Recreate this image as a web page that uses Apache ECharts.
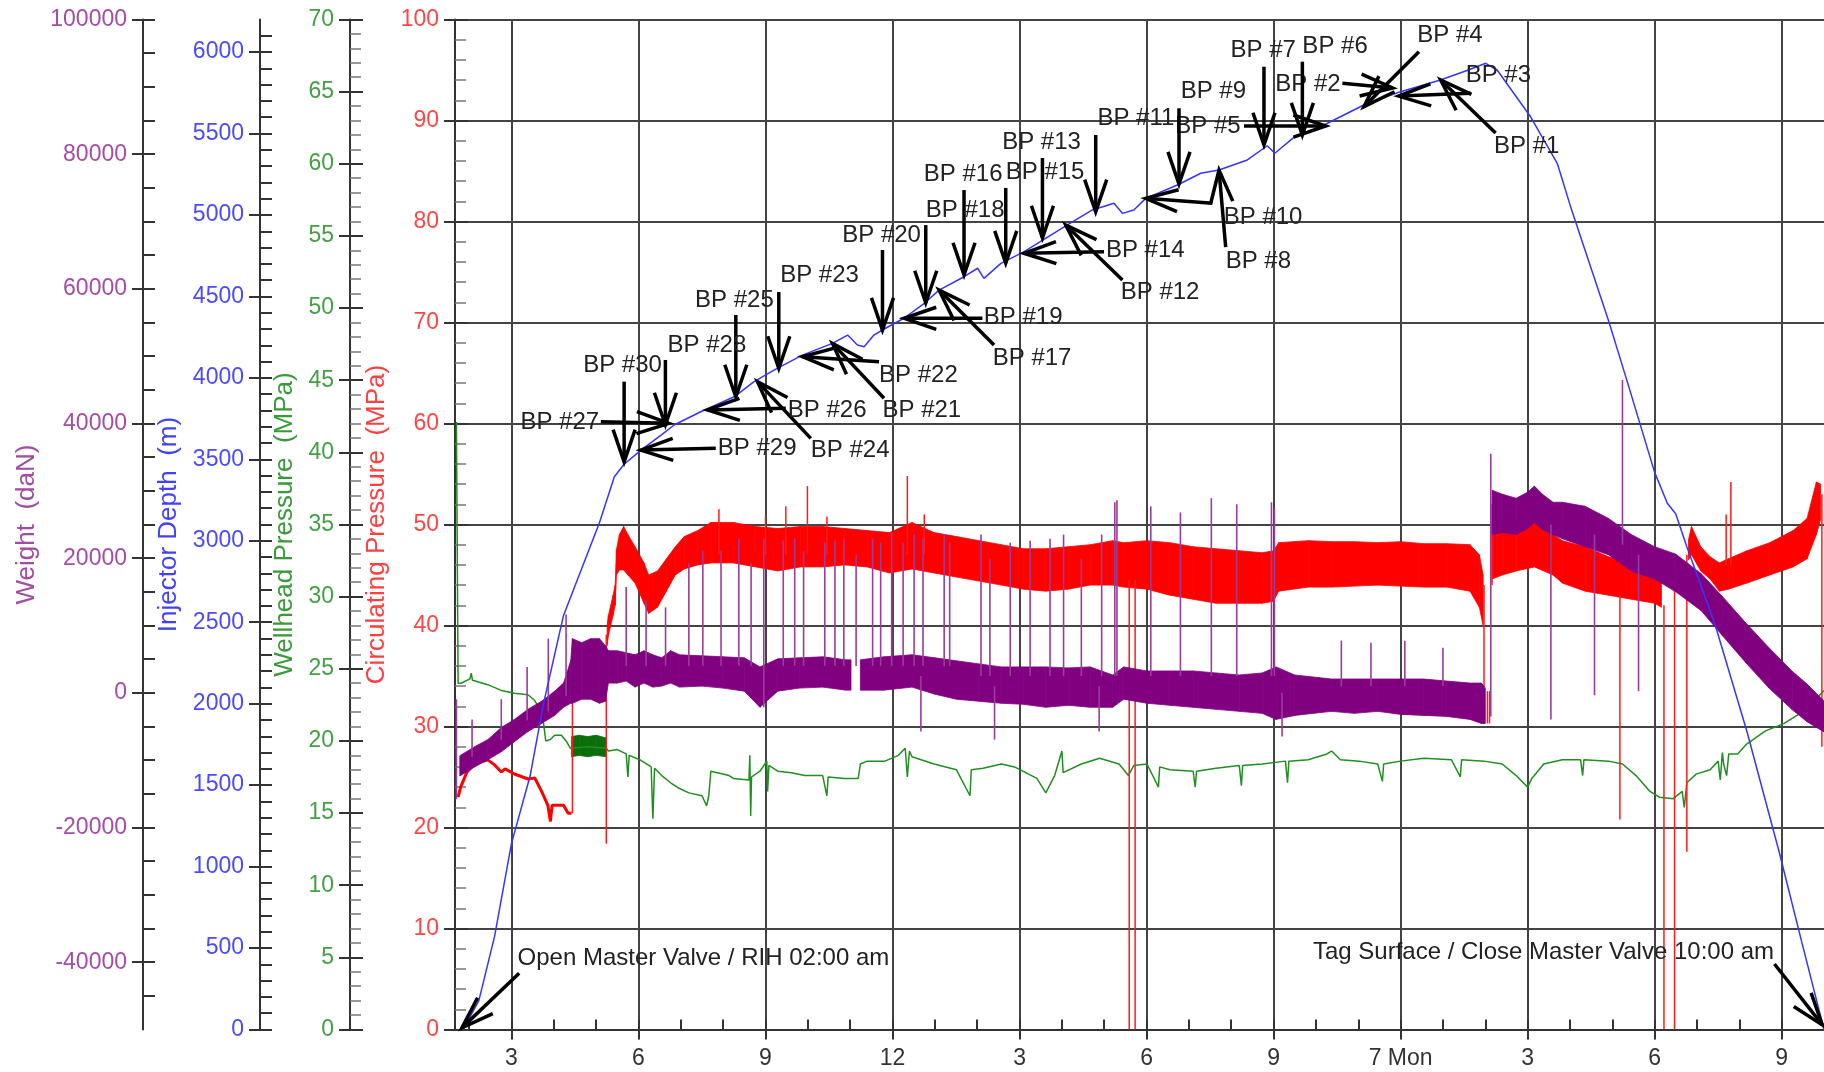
<!DOCTYPE html>
<html>
<head>
<meta charset="utf-8">
<title>Coiled tubing run log</title>
<script src="https://cdn.jsdelivr.net/npm/echarts@6.0.0/dist/echarts.min.js"></script>
<style>
  html, body { margin: 0; padding: 0; background: #ffffff; }
  #chart { width: 1824px; height: 1072px; }
</style>
</head>
<body>
<div id="chart"></div>
<script>
// ---- time range (hours from 00:00 on the 6th) ----
const X_MIN = 5 / 3;   // 01:40
const X_MAX = 34;      // 10:00 on the 7th

// ---- injector depth (m) : [hour, depth] ----
const injectorDepth = [
  [1.86, 0], [2.23, 177], [2.60, 570], [3.00, 1141], [3.44, 1556], [3.76, 2003], [4.23, 2542],
  [4.60, 2790], [5.08, 3112], [5.43, 3393], [5.66, 3470], [6.06, 3557], [6.55, 3652], [6.84, 3711],
  [7.47, 3792], [8.26, 3884], [8.73, 3977], [9.20, 4048], [9.87, 4140], [10.58, 4212], [10.94, 4263],
  [11.17, 4202], [11.33, 4191], [11.56, 4263], [11.76, 4294], [12.27, 4366], [12.75, 4458],
  [13.10, 4539], [13.69, 4621], [14.01, 4673], [14.16, 4611], [14.56, 4703], [15.11, 4775],
  [16.13, 4939], [16.72, 5031], [17.23, 5072], [17.43, 5010], [17.70, 5031], [17.98, 5102],
  [18.73, 5184], [19.28, 5256], [19.71, 5276], [20.38, 5338], [20.85, 5425], [21.03, 5379],
  [21.50, 5481], [22.25, 5560], [23.13, 5675], [24.00, 5757], [24.94, 5829], [25.60, 5890],
  [26.01, 5931], [26.28, 5890], [27.07, 5603], [27.70, 5317], [28.04, 5030], [28.91, 4352],
  [29.35, 3980], [30.00, 3420], [30.30, 3230], [30.50, 3165], [30.76, 2964], [31.42, 2492],
  [32.18, 1829], [32.94, 1091], [33.49, 521], [34.00, 0]
];

// ---- wellhead pressure (MPa) : [hour, value] ----
const wellheadPressure = [
  [1.70, 42.1], [1.74, 24.0], [1.81, 24.0], [2.02, 24.3], [2.05, 24.7], [2.08, 24.2], [2.44, 23.9],
  [2.76, 23.5], [3.07, 23.3], [3.39, 23.2], [3.55, 22.8], [3.65, 22.3], [3.76, 21.2], [3.81, 20.0],
  [3.92, 20.1], [4.02, 20.4], [4.18, 20.4], [4.29, 20.0], [4.39, 19.5], [4.42, 19.6], [4.80, 19.6],
  [5.24, 19.5], [5.29, 19.3], [5.50, 19.4], [5.71, 19.1], [5.75, 17.5], [5.78, 19.0], [6.03, 18.7],
  [6.30, 18.2], [6.34, 14.6], [6.38, 18.1], [6.55, 17.6], [6.76, 17.1], [6.97, 16.7], [7.19, 16.4],
  [7.50, 16.2], [7.61, 15.5], [7.66, 16.2], [7.71, 17.9], [8.14, 17.6], [8.24, 17.4], [8.61, 17.3],
  [8.63, 19.0], [8.65, 14.8], [8.67, 17.5], [8.87, 17.9], [9.03, 18.6], [9.05, 16.5], [9.08, 18.3],
  [9.29, 17.9], [9.61, 17.8], [9.93, 17.6], [10.35, 17.6], [10.45, 16.2], [10.48, 17.5], [10.87, 17.4],
  [11.19, 17.4], [11.24, 18.4], [11.40, 18.6], [11.82, 18.6], [12.14, 19.0], [12.30, 19.5], [12.35, 17.5],
  [12.40, 19.3], [12.46, 18.9], [12.98, 18.4], [13.51, 18.0], [13.83, 16.2], [13.86, 18.0], [14.14, 18.1],
  [14.57, 18.4], [14.88, 18.2], [15.41, 17.4], [15.62, 16.4], [15.83, 17.6], [16.00, 19.3], [16.03, 17.8],
  [16.46, 18.4], [16.89, 18.8], [17.35, 18.4], [17.57, 17.6], [17.70, 18.3], [18.01, 18.4], [18.28, 16.8],
  [18.31, 18.2], [18.55, 18.0], [19.10, 17.9], [19.15, 16.8], [19.18, 17.9], [19.64, 18.1], [20.19, 18.3],
  [20.24, 16.9], [20.27, 18.3], [20.73, 18.4], [21.28, 18.6], [21.33, 17.1], [21.36, 18.6], [21.82, 18.7],
  [22.26, 19.1], [22.37, 19.3], [22.58, 18.7], [23.02, 18.6], [23.46, 18.4], [23.57, 17.2], [23.60, 18.4],
  [24.00, 18.6], [24.55, 18.8], [25.20, 18.7], [25.41, 17.5], [25.44, 18.7], [25.97, 18.6], [26.40, 18.4],
  [26.73, 17.6], [27.00, 16.8], [27.10, 17.4], [27.38, 18.4], [27.82, 18.7], [28.25, 18.7], [28.30, 17.6],
  [28.33, 18.7], [28.91, 18.6], [29.24, 18.4], [29.56, 17.6], [29.89, 16.5], [30.11, 16.1], [30.44, 16.0],
  [30.65, 16.5], [30.70, 15.4], [30.76, 17.1], [30.98, 17.7], [31.31, 18.0], [31.50, 18.6], [31.55, 17.3],
  [31.60, 19.2], [31.63, 18.4], [31.70, 17.6], [31.75, 19.1], [31.96, 19.1], [32.18, 19.8], [32.62, 20.7],
  [33.05, 21.2], [33.38, 21.8], [33.71, 22.6], [34.00, 23.5]
];
// dense wellhead readings : [hour, low, high]
const wellheadDense = [
  [4.42, 18.9, 20.3], [4.60, 19.0, 20.4], [4.80, 18.9, 20.3], [5.00, 19.0, 20.4], [5.24, 18.9, 20.2]
];

// ---- circulating pressure (MPa) ----
const circEarly = [
  [1.74, 23.0], [1.80, 24.0], [1.95, 25.5], [2.13, 26.3], [2.44, 26.7], [2.60, 26.2], [2.76, 25.5],
  [2.85, 25.8], [3.07, 25.3], [3.39, 24.8], [3.55, 24.9], [3.71, 23.6], [3.86, 22.2], [3.92, 20.6],
  [3.96, 22.2], [4.02, 22.2], [4.23, 22.2], [4.34, 21.4], [4.42, 21.4]
];
// noisy envelope : [hour, low, high]  (null marks a break)
const circBand = [
  [5.26, 38.0, 40.0], [5.29, 39.0, 41.0], [5.40, 41.0, 43.0], [5.45, 42.0, 44.0], [5.48, 45.0, 47.5],
  [5.55, 45.5, 49.0], [5.65, 45.5, 49.8], [5.75, 45.0, 49.0], [5.92, 44.2, 47.8], [6.13, 42.2, 46.2],
  [6.24, 41.2, 45.0], [6.45, 41.8, 45.4], [6.66, 43.4, 46.6], [6.87, 45.0, 47.8], [7.08, 45.6, 48.8],
  [7.40, 46.0, 49.4], [7.71, 46.2, 50.2], [8.24, 46.2, 50.2], [8.77, 45.8, 49.8], [9.29, 45.4, 49.6],
  [9.82, 45.8, 49.8], [10.35, 45.8, 49.8], [10.87, 46.0, 49.6], [11.40, 45.8, 49.4], [11.93, 45.2, 49.2],
  [12.46, 45.6, 50.2], [12.98, 45.2, 49.2], [13.51, 44.8, 48.8], [14.04, 44.4, 48.4], [14.57, 44.0, 48.0],
  [15.09, 43.6, 47.6], [15.62, 43.4, 47.6], [16.15, 43.6, 47.8], [16.67, 44.0, 48.0], [17.20, 44.0, 48.4],
  [17.46, 43.8, 48.2], [18.01, 43.6, 48.4], [18.55, 43.0, 48.2], [19.10, 42.6, 47.8], [19.64, 42.2, 47.6],
  [20.19, 42.2, 47.4], [20.73, 42.2, 47.2], [21.00, 42.4, 47.4], [21.12, 43.4, 48.2], [21.82, 43.8, 48.4],
  [22.37, 43.8, 48.3], [22.91, 43.9, 48.3], [23.46, 44.0, 48.2], [24.00, 43.9, 48.3], [24.55, 43.8, 48.1],
  [25.09, 43.8, 48.1], [25.64, 43.4, 48.0], [25.86, 41.8, 47.0], [25.95, 40.0, 45.0], [26.05, null, null],
  [26.16, 44.6, 50.2], [26.40, 45.0, 50.0], [26.73, 45.4, 50.2], [27.16, 45.8, 50.4], [27.60, 45.0, 49.0],
  [27.82, 44.2, 48.4], [28.36, 43.4, 47.8], [28.91, 43.0, 46.8], [29.45, 42.6, 46.2], [30.00, 42.2, 45.8],
  [30.16, 41.8, 45.0], [30.50, null, null], [30.80, 46.5, 48.5], [30.87, 47.0, 49.8], [31.09, 45.4, 47.8],
  [31.31, 44.6, 46.8], [31.53, 43.4, 46.2], [31.74, 43.6, 46.6], [32.18, 44.2, 47.4], [32.72, 45.0, 48.2],
  [33.27, 45.8, 49.4], [33.60, 46.6, 50.6], [33.82, 49.0, 54.2], [33.92, 50.5, 54.0]
];
// isolated excursions : [hour, from, to]
const circSpikes = [
  [4.44, 21.4, 37.5], [5.24, 18.4, 39.1], [7.90, 47.0, 51.5], [9.00, 47.0, 50.8], [9.48, 47.0, 51.8],
  [9.99, 47.0, 53.8], [10.45, 47.0, 50.8], [12.35, 47.0, 54.8], [12.75, 47.0, 51.0], [17.59, 0, 44.5],
  [17.73, 0, 44.5], [25.97, 30.3, 44.0], [26.05, 30.3, 33.5], [26.10, 30.3, 33.5], [26.16, 44.0, 52.0],
  [29.18, 20.8, 43.0], [30.22, 0, 42.0], [30.47, 0, 45.0], [30.76, 17.6, 47.0], [31.69, 46.0, 51.0],
  [31.80, 46.0, 54.2], [33.95, 28.0, 53.0]
];

// ---- weight (daN) ----
const weightBand = [
  [1.78, -12350, -9350], [2.13, -11000, -8000], [2.44, -9950, -6950], [2.76, -8750, -5150],
  [3.07, -7250, -3950], [3.39, -5750, -2450], [3.71, -4550, -1250], [4.02, -3350, 250],
  [4.23, -2150, 1450], [4.40, -1550, 4750], [4.44, -1550, 8050], [4.66, -950, 7450], [4.87, -950, 8050],
  [5.08, -1550, 8050], [5.22, -1250, 7000], [5.29, 1450, 6250], [5.50, 1450, 6250], [5.71, 1750, 5950],
  [5.92, 850, 5650], [6.13, 1450, 6250], [6.34, 850, 5650], [6.55, 1000, 5200], [6.76, 1450, 6250],
  [6.97, 850, 5650], [7.50, 1000, 5500], [8.00, 700, 5350], [8.50, 250, 5200], [8.87, -2150, 3850],
  [9.29, 250, 5050], [9.80, 700, 5200], [10.35, 850, 5350], [10.90, 400, 4900], [11.02, 400, 4900],
  [11.10, null, null], [11.24, 400, 4900], [11.80, 400, 5350], [12.46, 850, 5650], [13.00, -200, 5200],
  [13.51, -950, 4750], [14.04, -1250, 4300], [14.57, -1550, 3850], [15.09, -1700, 3850],
  [15.62, -2150, 3850], [16.15, -1850, 3700], [16.67, -2150, 3850], [17.20, -2150, 2650],
  [17.46, -950, 3850], [18.01, -1550, 3250], [18.55, -1850, 3250], [19.10, -2150, 3250],
  [19.64, -2450, 2950], [20.19, -2750, 2650], [20.73, -3050, 2950], [21.06, -3950, 3850],
  [21.50, -3350, 2650], [22.37, -2750, 2050], [22.91, -3050, 2050], [23.46, -2750, 2050],
  [24.00, -3200, 2050], [24.55, -3350, 2050], [25.09, -3500, 1750], [25.64, -3950, 1450],
  [25.91, -4550, 1450], [26.00, -4550, 700], [26.08, null, null], [26.16, 23500, 30100],
  [26.40, 23800, 29500], [26.73, 23500, 28900], [27.00, 24400, 29800], [27.16, 25300, 30700],
  [27.35, 24250, 29500], [27.60, 23500, 28300], [27.82, 22900, 28300], [28.36, 21700, 27700],
  [28.91, 20500, 25900], [29.45, 18100, 23500], [30.00, 16900, 21700], [30.50, 15000, 20600],
  [31.10, 12200, 17700], [31.60, 8500, 14300], [32.15, 4500, 10400], [32.70, 700, 6700],
  [33.25, -2500, 3200], [33.60, -4300, 1300], [34.00, -5800, -1200]
];
const weightSpikes = [
  [1.70, -15800, -950], [2.07, -9500, -3950], [2.76, -6950, -950], [3.37, -4100, 3850], [3.87, -2750, 8050],
  [4.29, -500, 11650], [5.71, 4000, 15700], [6.18, 4000, 13750], [6.64, 4000, 12700], [7.19, 4000, 19300],
  [7.52, 4000, 21100], [7.95, 4000, 21100], [8.37, 4000, 22900], [8.66, 4000, 19300], [8.96, -2150, 22900],
  [9.42, 4000, 22600], [9.69, 4000, 22900], [9.90, 4000, 21100], [10.40, 4000, 22300], [10.64, 4000, 22600],
  [10.85, 4000, 22900], [11.14, 4000, 20500], [11.53, 4000, 22900], [11.72, 4000, 22300], [11.98, 4000, 23800],
  [12.25, 4000, 22300], [12.51, 4000, 23500], [12.67, -5750, 2500], [12.72, 4000, 22900], [13.22, 4000, 23500],
  [13.35, 4000, 22300], [14.09, 2500, 23500], [14.30, 2500, 19900], [14.41, -6950, 1000], [14.78, 2500, 22300],
  [15.25, 2500, 22600], [15.72, 2500, 22900], [16.04, 2500, 23500], [16.46, 2500, 19900], [16.88, -5750, 1000],
  [16.94, 2500, 23500], [17.25, 2500, 28300], [17.30, 2500, 28600], [18.10, 2500, 27700], [18.80, 2500, 26800],
  [19.53, 2500, 28900], [20.13, 2500, 28000], [20.95, 2500, 28300], [21.02, 2500, 27400], [21.20, -6500, 0],
  [22.60, 1000, 7750], [23.30, 1000, 7450], [24.10, 1000, 7750], [25.00, 1000, 6700], [26.13, -3500, 35500],
  [27.55, -3950, 25000], [28.58, -350, 23500], [29.24, 22000, 46450], [29.62, 250, 20500]
];

// ---- annotations : [tipHour, tipDepth, tailHour, tailDepth, textHour, textDepth, align] ----
// align: 0 = left, 1 = centre, 2 = right
const noteLabels = [
  'BP #1', 'BP #2', 'BP #3', 'BP #4', 'BP #5', 'BP #6', 'BP #7', 'BP #8', 'BP #9', 'BP #10',
  'BP #11', 'BP #12', 'BP #13', 'BP #14', 'BP #15', 'BP #16', 'BP #17', 'BP #18', 'BP #19', 'BP #20',
  'BP #21', 'BP #22', 'BP #23', 'BP #24', 'BP #25', 'BP #26', 'BP #27', 'BP #28', 'BP #29', 'BP #30',
  'Open Master Valve / RIH 02:00 am', 'Tag Surface / Close Master Valve 10:00 am'
];
const notePositions = [
  [24.946, 5829, 26.244, 5503, 26.205, 5419, 0],
  [23.812, 5780, 22.625, 5808, 22.585, 5804, 2],
  [23.954, 5730, 25.654, 5747, 25.536, 5854, 0],
  [23.135, 5665, 24.433, 6002, 24.395, 6100, 0],
  [22.230, 5546, 20.301, 5546, 20.222, 5542, 2],
  [21.680, 5491, 21.680, 5941, 21.680, 6033, 0],
  [20.773, 5430, 20.773, 5910, 20.754, 6013, 1],
  [19.711, 5276, 19.869, 4803, 19.869, 4718, 0],
  [18.766, 5190, 18.766, 5655, 18.806, 5757, 0],
  [17.980, 5102, 19.555, 5072, 19.822, 4985, 0],
  [16.799, 5020, 16.799, 5491, 16.839, 5595, 0],
  [16.091, 4938, 17.430, 4601, 17.390, 4524, 0],
  [15.541, 4859, 15.541, 5350, 15.519, 5445, 1],
  [15.106, 4765, 16.995, 4775, 17.040, 4780, 0],
  [14.674, 4705, 14.674, 5166, 14.674, 5261, 0],
  [13.689, 4632, 13.689, 5153, 13.668, 5252, 1],
  [13.099, 4539, 14.398, 4202, 14.367, 4122, 0],
  [12.785, 4460, 12.785, 4938, 12.785, 5031, 0],
  [12.273, 4366, 14.124, 4366, 14.155, 4371, 0],
  [11.763, 4294, 11.763, 4785, 11.742, 4872, 1],
  [10.582, 4212, 11.800, 3875, 11.763, 3803, 0],
  [9.874, 4130, 11.682, 4099, 11.682, 4018, 0],
  [9.314, 4058, 9.314, 4527, 9.347, 4630, 0],
  [8.811, 3977, 10.070, 3629, 10.070, 3557, 0],
  [8.299, 3883, 8.299, 4386, 8.266, 4475, 1],
  [7.630, 3803, 9.479, 3813, 9.527, 3803, 0],
  [6.717, 3721, 5.111, 3731, 5.071, 3726, 2],
  [6.636, 3711, 6.636, 4110, 6.686, 4202, 0],
  [6.055, 3557, 7.826, 3568, 7.873, 3568, 0],
  [5.661, 3485, 5.661, 3977, 5.623, 4074, 1],
  [1.830, 10, 3.182, 345, 3.144, 439, 0],
  [33.960, 28, 32.830, 402, 32.820, 476, 2]
];

// ---- axis tick values ----
function range(a, b, step) {
  const out = [];
  for (let v = a; v <= b + 1e-9; v += step) out.push(Math.round(v * 1000) / 1000);
  return out;
}
const timeLabels = range(3, 33, 3);
const hourTicks = range(2, 33, 1);
const depthLabels = range(0, 6000, 500);
const depthTicks = range(0, 6100, 100);
const weightLabels = range(-40000, 100000, 20000);
const weightTicks = range(-45000, 100000, 5000);

const FONT = '"Liberation Sans", Arial, Helvetica, sans-serif';
const INK = '#333333';

function fmtHour(v) {
  if (v === 24) return '7 Mon';
  return String(((v - 1) % 12) + 1);
}

function mainAxis(c) {
  return {
    type: 'value', position: 'left', offset: c.offset, min: c.min, max: c.max, interval: c.interval,
    name: c.name, nameLocation: 'middle', nameGap: c.nameGap,
    nameTextStyle: { color: c.nameColor, fontSize: 26, fontFamily: FONT },
    axisLine: { show: true, onZero: false, lineStyle: { color: INK, width: 2 } },
    axisTick: { show: true, inside: true, length: c.tickLen, customValues: c.ticks,
                lineStyle: { color: INK, width: 2 } },
    minorTick: { show: !!c.minor, splitNumber: c.minor || 5, length: 11,
                 lineStyle: { color: '#777', width: 1.5 } },
    axisLabel: { show: true, color: c.labelColor, fontSize: 23, fontFamily: FONT, margin: 16,
                 customValues: c.labels, formatter: v => String(v) },
    splitLine: { show: !!c.grid, lineStyle: { color: '#444', width: 2 } }
  };
}
function outerTicks(c) {
  return {
    type: 'value', position: 'left', offset: c.offset, min: c.min, max: c.max, interval: c.interval,
    axisLine: { show: false, onZero: false },
    axisTick: { show: true, inside: false, length: 11, customValues: c.majors,
                lineStyle: { color: INK, width: 2 } },
    minorTick: { show: false }, axisLabel: { show: false }, splitLine: { show: false }
  };
}

const yAxis = [
  mainAxis({ offset: 0, min: 0, max: 100, interval: 10, name: 'Circulating Pressure  (MPa)', nameGap: 59,
             nameColor: '#ff4040', labelColor: '#ff4646', tickLen: 13, minor: 5, grid: true }),
  outerTicks({ offset: 0, min: 0, max: 100, interval: 10 }),
  mainAxis({ offset: 105, min: 0, max: 70, interval: 5, name: 'Wellhead Pressure  (MPa)', nameGap: 47,
             nameColor: '#3a9a3a', labelColor: '#44a044', tickLen: 13, minor: 5 }),
  outerTicks({ offset: 105, min: 0, max: 70, interval: 5 }),
  mainAxis({ offset: 195, min: 0, max: 6200, name: 'Injector Depth  (m)', nameGap: 74,
             nameColor: '#4040ff', labelColor: '#4a4aff', tickLen: 12, ticks: depthTicks, labels: depthLabels }),
  outerTicks({ offset: 195, min: 0, max: 6200, majors: depthLabels }),
  mainAxis({ offset: 312, min: -50000, max: 100000, name: 'Weight  (daN)', nameGap: 100,
             nameColor: '#a04ca0', labelColor: '#a64ca6', tickLen: 12, ticks: weightTicks, labels: weightLabels }),
  outerTicks({ offset: 312, min: -50000, max: 100000, majors: weightLabels })
];

const xAxis = [
  {
    type: 'value', position: 'bottom', min: X_MIN, max: X_MAX,
    axisLine: { show: true, onZero: false, lineStyle: { color: INK, width: 2 } },
    axisTick: { show: true, customValues: timeLabels, length: 10, lineStyle: { color: INK, width: 2 } },
    axisLabel: { customValues: timeLabels, formatter: fmtHour, fontSize: 23, fontFamily: FONT,
                 color: INK, margin: 18 },
    splitLine: { show: true, lineStyle: { color: '#444', width: 2 } }
  },
  {
    type: 'value', position: 'bottom', min: X_MIN, max: X_MAX,
    axisLine: { show: false, onZero: false },
    axisTick: { show: true, inside: true, customValues: hourTicks, length: 10,
                lineStyle: { color: INK, width: 2 } },
    axisLabel: { show: false }, splitLine: { show: false }
  }
];

// filled envelope between the low and high readings, one quad per interval
function bandSeries(name, rows, yAxisIndex, color, z) {
  return {
    name, type: 'custom', xAxisIndex: 0, yAxisIndex, z, silent: true,
    data: rows.map(r => [r[0], r[1] == null ? 0 : r[1], r[2] == null ? 0 : r[2]]),
    encode: { x: 0, y: [1, 2] },
    renderItem: function (params, api) {
      const a = rows[params.dataIndex];
      const b = rows[params.dataIndex + 1];
      if (!b || a[1] == null || b[1] == null) return null;
      const pts = [
        api.coord([a[0], a[1]]), api.coord([b[0], b[1]]),
        api.coord([b[0], b[2]]), api.coord([a[0], a[2]])
      ];
      return { type: 'polygon', shape: { points: pts },
               style: { fill: color, stroke: color, lineWidth: 0.8 } };
    }
  };
}
// vertical excursions drawn as thin strokes
function spikeSeries(name, rows, yAxisIndex, color, width, z) {
  return {
    name, type: 'custom', xAxisIndex: 0, yAxisIndex, z, silent: true,
    data: rows, encode: { x: 0, y: [1, 2] },
    renderItem: function (params, api) {
      const a = api.coord([api.value(0), api.value(1)]);
      const b = api.coord([api.value(0), api.value(2)]);
      return { type: 'line', shape: { x1: a[0], y1: a[1], x2: b[0], y2: b[1] },
               style: { stroke: color, lineWidth: width } };
    }
  };
}

const ALIGN = ['left', 'center', 'right'];
const noteSeries = {
  name: 'Notes', type: 'custom', xAxisIndex: 0, yAxisIndex: 4, z: 20, silent: true, clip: false,
  data: notePositions, encode: { x: 0, y: 1 },
  renderItem: function (params, api) {
    const tip = api.coord([api.value(0), api.value(1)]);
    const tail = api.coord([api.value(2), api.value(3)]);
    const lab = api.coord([api.value(4), api.value(5)]);
    const ang = Math.atan2(tip[1] - tail[1], tip[0] - tail[0]);
    const L = 34, s = 0.33;
    const p1 = [tip[0] - L * Math.cos(ang - s), tip[1] - L * Math.sin(ang - s)];
    const p2 = [tip[0] - L * Math.cos(ang + s), tip[1] - L * Math.sin(ang + s)];
    return {
      type: 'group',
      children: [
        { type: 'line', shape: { x1: tail[0], y1: tail[1], x2: tip[0], y2: tip[1] },
          style: { stroke: '#000', lineWidth: 3.5 } },
        { type: 'polyline', shape: { points: [p1, tip, p2] },
          style: { stroke: '#000', lineWidth: 3.5, fill: 'none' } },
        { type: 'text',
          style: { text: noteLabels[params.dataIndex], x: lab[0], y: lab[1], fill: '#222',
                   fontSize: 24, fontFamily: FONT, align: ALIGN[api.value(6)], verticalAlign: 'middle' } }
      ]
    };
  }
};

const series = [];
series.push({ name: 'Wellhead Pressure', type: 'line', xAxisIndex: 0, yAxisIndex: 2, data: wellheadPressure,
              symbol: 'none', silent: true, z: 2, lineStyle: { color: '#1f8f1f', width: 1.5 } });
series.push(bandSeries('Wellhead Pressure', wellheadDense, 2, '#0b6e0b', 2));
series.push({ name: 'Circulating Pressure', type: 'line', xAxisIndex: 0, yAxisIndex: 0, data: circEarly,
              symbol: 'none', silent: true, z: 3, lineStyle: { color: '#ff0000', width: 3 } });
series.push(bandSeries('Circulating Pressure', circBand, 0, '#ff0000', 3));
series.push(spikeSeries('Circulating Pressure', circSpikes, 0, '#ff1a1a', 1.5, 3));
series.push(bandSeries('Weight', weightBand, 6, '#800080', 4));
series.push(spikeSeries('Weight', weightSpikes, 6, '#9a3c9a', 1.6, 4));
series.push({ name: 'Injector Depth', type: 'line', xAxisIndex: 0, yAxisIndex: 4, data: injectorDepth,
              symbol: 'none', silent: true, z: 5, lineStyle: { color: '#3535ff', width: 1.5 } });
series.push(noteSeries);

const chart = echarts.init(document.getElementById('chart'), null, { renderer: 'canvas' });
chart.setOption({
  animation: false,
  backgroundColor: '#ffffff',
  textStyle: { fontFamily: FONT },
  grid: { left: 455, right: 0, top: 19.5, bottom: 42.5 },
  xAxis,
  yAxis,
  series
});
</script>
</body>
</html>
